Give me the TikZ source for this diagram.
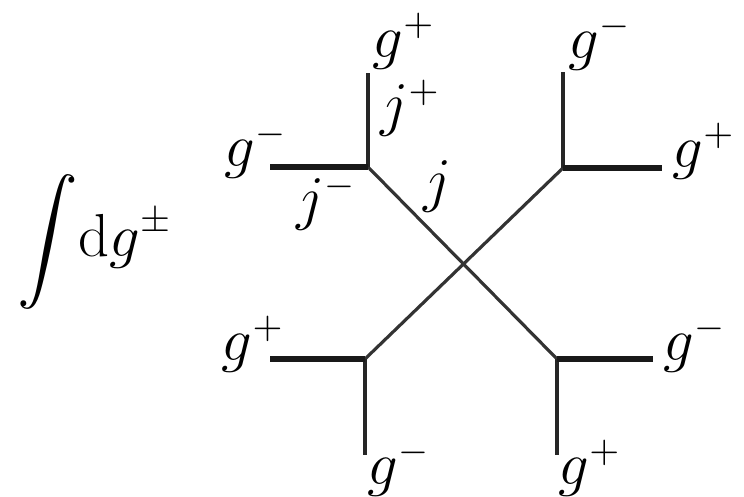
\documentclass[tikz,border=0pt]{standalone}
\usepackage{amsmath}
\usetikzlibrary{positioning}
\begin{document}
\begin{tikzpicture}[font=\fontsize{16}{19}\selectfont,
 leg/.style={line width=1pt,black!85},
 foot/.style={line width=1.6pt,black!90},
 link/.style={line width=0.9pt,black!80},
 lab/.style={inner sep=0pt}]
\useasboundingbox (0,0) rectangle (7.44,4.97);

% vertices
\coordinate (tl) at (3.68,3.30);
\coordinate (tr) at (5.63,3.29);
\coordinate (bl) at (3.65,1.38);
\coordinate (br) at (5.57,1.38);
% free ends
\coordinate (tlup) at (3.68,4.24);
\coordinate (tlside) at (2.70,3.30);
\coordinate (trup) at (5.63,4.25);
\coordinate (trside) at (6.62,3.29);
\coordinate (blside) at (2.70,1.38);
\coordinate (bldown) at (3.65,0.42);
\coordinate (brside) at (6.53,1.38);
\coordinate (brdown) at (5.57,0.42);

\draw[link] (tl) -- (br);
\draw[link] (tr) -- (bl);
\draw[leg] (tl) -- (tlup);
\draw[leg] (tr) -- (trup);
\draw[leg] (bl) -- (bldown);
\draw[leg] (br) -- (brdown);
\draw[foot] (tl) -- (tlside);
\draw[foot] (tr) -- (trside);
\draw[foot] (bl) -- (blside);
\draw[foot] (br) -- (brside);

\node[lab,anchor=base west] (meas) at (0.17,2.40) {$\displaystyle\int\! \mathrm{d}g^{\pm}$};

\node[lab,above right=0.03 and 0.04 of tlup] (gtlup) {$g^{+}$};
\node[lab,above right=0.01 and 0.05 of trup] (gtrup) {$g^{-}$};
\node[lab,anchor=base east,xshift=1.8mm] (gtlside) at (tlside) {$g^{-}$};
\node[lab,anchor=base west,xshift=1mm] (gtrside) at (trside) {$g^{+}$};
\node[lab,anchor=base east,xshift=1.5mm,yshift=-0.2mm] (gblside) at (blside) {$g^{+}$};
\node[lab,anchor=base west,xshift=1mm,yshift=-0.2mm] (gbrside) at (brside) {$g^{-}$};
\node[lab,anchor=north west,xshift=0.2mm,yshift=1.6mm] (gbldown) at (bldown) {$g^{-}$};
\node[lab,anchor=north west,xshift=0.1mm,yshift=1.6mm] (gbrdown) at (brdown) {$g^{+}$};

\node[lab,above right=0.3 and 0.12 of tl] (jp) {$j^{+}$};
\node[lab,below left=0.06 and 0.11 of tl] (jm) {$j^{-}$};
\node[lab,anchor=north west,xshift=5.5mm,yshift=0.7mm] (jj) at (tl) {$j$};
\end{tikzpicture}
\end{document}
